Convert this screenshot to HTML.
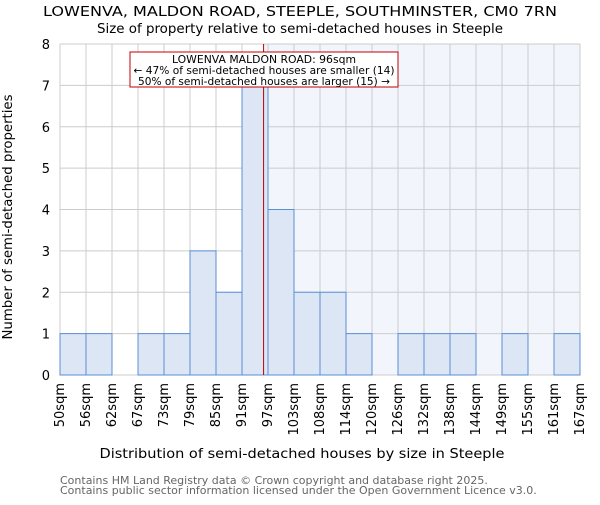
<!DOCTYPE html>
<html><head><meta charset="utf-8"><style>
body{margin:0;background:#fff;}
svg text{font-family:"DejaVu Sans","Liberation Sans",sans-serif;}
</style></head><body>
<svg id="c" width="600" height="500" xmlns="http://www.w3.org/2000/svg"></svg>
<script>
const categories=["50sqm","56sqm","62sqm","67sqm","73sqm","79sqm","85sqm","91sqm","97sqm","103sqm","108sqm","114sqm","120sqm","126sqm","132sqm","138sqm","144sqm","149sqm","155sqm","161sqm","167sqm"];
const counts=[1,1,0,1,1,3,2,7,4,2,2,1,0,1,1,1,0,1,0,1];
const yTicks=[0,1,2,3,4,5,6,7,8];
const markerBin=7.83;
const NS="http://www.w3.org/2000/svg";
const svg=document.getElementById('c');
const L=60,R=580,T=44,B=375;
const bw=(R-L)/counts.length;
const x=i=>L+i*bw;
const y=v=>B-(v/8)*(B-T);
function el(tag,attrs,txt){const e=document.createElementNS(NS,tag);for(const k in attrs)e.setAttribute(k,attrs[k]);if(txt!==undefined)e.textContent=txt;svg.appendChild(e);return e;}
const mx=x(markerBin);
let e=el('rect',{x:mx,y:T,width:R-mx,height:B-T,fill:'#f2f5fc'});


for(let i=0;i<=counts.length;i++){e=el('line',{x1:x(i),x2:x(i),y1:T,y2:B,stroke:'#cccccc','stroke-width':1});

}
yTicks.forEach(t=>{e=el('line',{x1:L,x2:R,y1:y(t),y2:y(t),stroke:'#cccccc','stroke-width':1});


e=el('text',{x:L-10,y:y(t)+5,'text-anchor':'end','font-size':13,fill:'#000'},t);

});
counts.forEach((c,i)=>{if(c>0){e=el('rect',{x:x(i),y:y(c),width:bw,height:B-y(c),fill:'#dce6f4',stroke:'#5b8fd6','stroke-width':1});

}});
categories.forEach((c,i)=>{const tx=x(i)+4,ty=B+8;e=el('text',{x:tx,y:ty,'text-anchor':'end','font-size':13,transform:`rotate(-90 ${tx} ${ty})`},c);

});
e=el('line',{x1:mx,x2:mx,y1:T,y2:B,stroke:'#c00000','stroke-width':1});


e=el('rect',{x:130,y:52,width:268,height:35,fill:'#fff',stroke:'#c00000','stroke-width':1});


[["LOWENVA MALDON ROAD: 96sqm",63,184],["← 47% of semi-detached houses are smaller (14)",74,261],["50% of semi-detached houses are larger (15) →",85,252]].forEach(a=>{e=el('text',{x:264,y:a[1],'text-anchor':'middle','font-size':10.5,textLength:a[2],lengthAdjust:'spacingAndGlyphs'},a[0]);

});
e=el('text',{x:300,y:16,'text-anchor':'middle','font-size':13,textLength:514,lengthAdjust:'spacingAndGlyphs'},"LOWENVA, MALDON ROAD, STEEPLE, SOUTHMINSTER, CM0 7RN");


e=el('text',{x:300,y:33,'text-anchor':'middle','font-size':13,textLength:406,lengthAdjust:'spacingAndGlyphs'},"Size of property relative to semi-detached houses in Steeple");


e=el('text',{x:302,y:458,'text-anchor':'middle','font-size':13,textLength:405,lengthAdjust:'spacingAndGlyphs'},"Distribution of semi-detached houses by size in Steeple");


e=el('text',{x:12,y:217,'text-anchor':'middle','font-size':13,textLength:245,lengthAdjust:'spacingAndGlyphs',transform:'rotate(-90 12 217)'},"Number of semi-detached properties");


e=el('text',{x:60,y:484,'font-size':11,fill:'#666'},"Contains HM Land Registry data © Crown copyright and database right 2025.");


e=el('text',{x:60,y:494,'font-size':11,fill:'#666'},"Contains public sector information licensed under the Open Government Licence v3.0.");


</script>
</body></html>
